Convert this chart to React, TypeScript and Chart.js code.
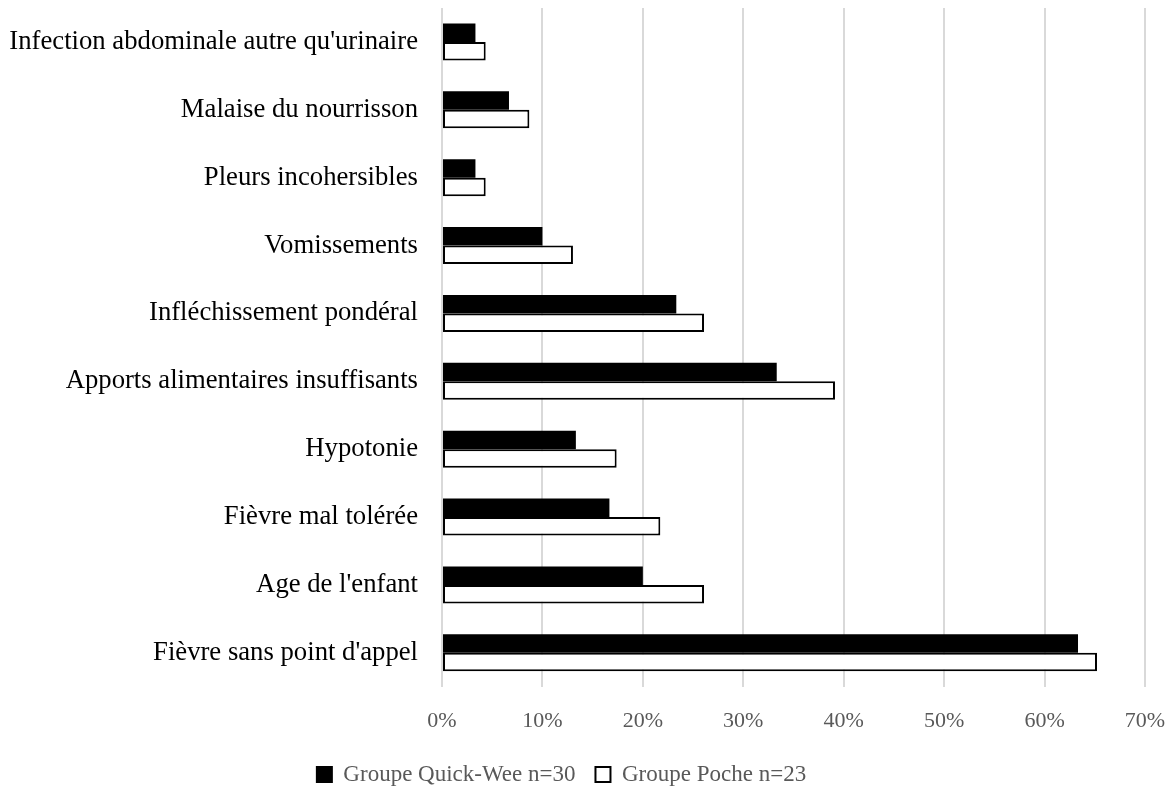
import React, { useEffect, useRef } from "react";
import { Chart, registerables } from "chart.js";

Chart.register(...registerables);

const categories = [
  "Infection abdominale autre qu'urinaire",
  "Malaise du nourrisson",
  "Pleurs incohersibles",
  "Vomissements",
  "Infléchissement pondéral",
  "Apports alimentaires insuffisants",
  "Hypotonie",
  "Fièvre mal tolérée",
  "Age de l'enfant",
  "Fièvre sans point d'appel",
];

const quickWee = [3.33, 6.67, 3.33, 10.0, 23.33, 33.33, 13.33, 16.67, 20.0, 63.33];
const poche = [4.35, 8.7, 4.35, 13.04, 26.09, 39.13, 17.39, 21.74, 26.09, 65.22];

const seriesNames = ["Groupe Quick-Wee n=30", "Groupe Poche n=23"];
const xTicks = [0, 10, 20, 30, 40, 50, 60, 70];

const FONT = "'Liberation Serif', 'Times New Roman', serif";

const legendShift = {
  id: "legendShift",
  afterLayout(chart: any) {
    if (chart.legend) chart.legend.right -= 22;
  },
};

export default function App() {
  const ref = useRef<HTMLCanvasElement | null>(null);

  useEffect(() => {
    if (!ref.current) return;
    const chart = new Chart(ref.current, {
      type: "bar",
      data: {
        labels: categories,
        datasets: [
          {
            label: seriesNames[0],
            data: quickWee,
            backgroundColor: "#000000",
            borderColor: "#000000",
            borderWidth: 0,
            categoryPercentage: 0.545,
            barPercentage: 1,
          },
          {
            label: seriesNames[1],
            data: poche,
            backgroundColor: "#ffffff",
            borderColor: "#000000",
            borderWidth: 2,
            borderSkipped: false,
            categoryPercentage: 0.545,
            barPercentage: 1,
          },
        ],
      },
      plugins: [legendShift],
      options: {
        indexAxis: "y",
        animation: false,
        responsive: true,
        maintainAspectRatio: false,
        layout: { padding: { top: 8, right: 30, left: 0, bottom: 0 } },
        plugins: {
          tooltip: { enabled: false },
          legend: {
            position: "bottom",
            labels: {
              font: { family: FONT, size: 23 },
              color: "#595959",
              boxWidth: 15,
              boxHeight: 15,
              padding: 20,
              useBorderRadius: false,
              generateLabels: (c: any) =>
                c.data.datasets.map((ds: any, i: number) => ({
                  text: ds.label,
                  fillStyle: ds.backgroundColor,
                  strokeStyle: "#000000",
                  lineWidth: 2,
                  hidden: false,
                  datasetIndex: i,
                  fontColor: "#595959",
                })),
            },
          },
        },
        scales: {
          x: {
            min: 0,
            max: 70,
            afterFit: (s: any) => {
              s.height = 56.2;
              s.paddingLeft = 0;
              s.paddingRight = 0;
              s.paddingTop = 0;
              s.paddingBottom = 0;
            },
            afterBuildTicks: (s: any) => {
              s.ticks = xTicks.map((v) => ({ value: v }));
            },
            ticks: {
              callback: (v: any) => v + "%",
              font: { family: FONT, size: 22 },
              color: "#595959",
              padding: 21,
            },
            grid: {
              color: "#d9d9d9",
              lineWidth: 2,
              drawTicks: false,
            },
            border: { display: false },
          },
          y: {
            afterFit: (s: any) => {
              s.width = 442;
              s.paddingLeft = 0;
              s.paddingRight = 0;
              s.paddingTop = 0;
              s.paddingBottom = 0;
            },
            ticks: {
              font: { family: FONT, size: 26.7 },
              color: "#000000",
              padding: 24,
            },
            grid: { display: false, drawTicks: false },
            border: { display: false },
          },
        },
      },
    });
    return () => chart.destroy();
  }, []);

  return (
    <div style={{ position: "fixed", left: 0, top: 0, width: 1175, height: 789, overflow: "hidden", background: "#fff" }}>
      <div style={{ position: "relative", width: 1175, height: 796 }}>
        <canvas ref={ref} />
      </div>
    </div>
  );
}
